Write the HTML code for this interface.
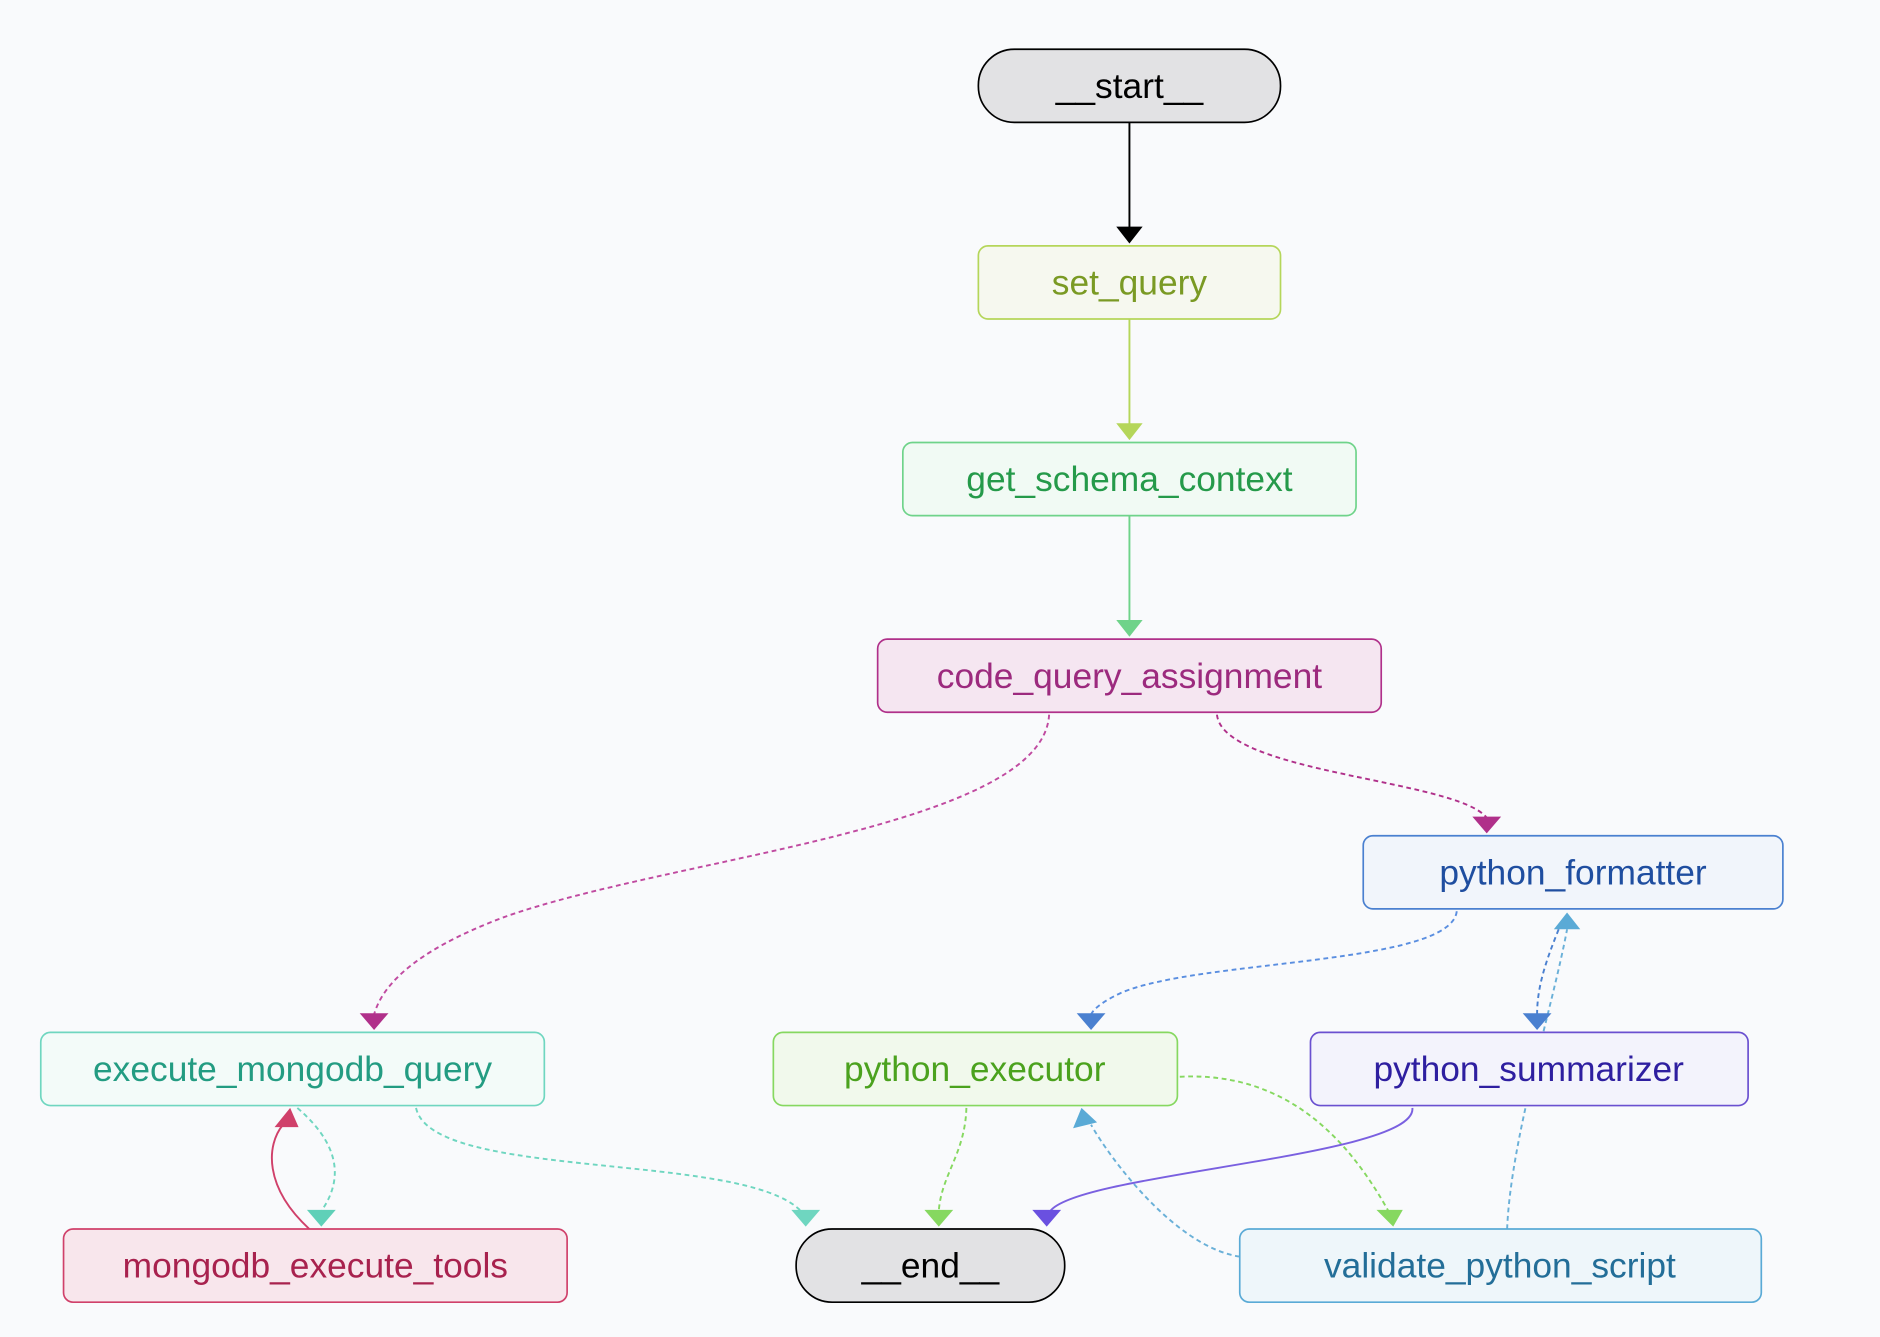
<!DOCTYPE html>
<html><head><meta charset="utf-8"><style>
html,body{margin:0;padding:0;background:#f9fafc;}
svg{display:block;}
text{font-family:"Liberation Sans",sans-serif;font-size:29.5px;text-anchor:middle;dominant-baseline:central;}
</style></head><body>
<svg width="1880" height="1337" viewBox="0 0 1568 1115" xmlns="http://www.w3.org/2000/svg">
<rect width="1568" height="1115" fill="#f9fafc"/>
<g fill="none" stroke-width="1.6">
<path d="M942,102 L942,190" stroke="#000"/>
<path d="M942,266 L942,354" stroke="#b5d65a"/>
<path d="M942,430 L942,518" stroke="#6fd38a"/>
<path d="M875,596 C870,690 560,715 420,765 C340,795 318,825 312,846" stroke="#c04aa0" stroke-dasharray="4,3"/>
<path d="M1015,596 C1020,645 1215,650 1240,682" stroke="#b0308a" stroke-dasharray="4,3"/>
<path d="M1215,760 C1210,805 1000,800 935,828 C918,836 912,842 910,846" stroke="#5a8ee0" stroke-dasharray="4,3"/>
<path d="M1300,775 C1290,800 1282,822 1282,846" stroke="#4a80d0" stroke-dasharray="4,3"/>
<path d="M1257,1025 C1260,950 1295,840 1307,775" stroke="#6ab0d8" stroke-dasharray="4,3"/>
<path d="M347,924 C360,985 620,960 668,1010" stroke="#6fd6c0" stroke-dasharray="4,3"/>
<path d="M248,924 C290,960 282,990 268,1010" stroke="#6fd6c0" stroke-dasharray="4,3"/>
<path d="M258,1025 C220,990 222,955 236,938" stroke="#d0406a"/>
<path d="M806,924 C805,962 785,980 783,1010" stroke="#86d860" stroke-dasharray="4,3"/>
<path d="M984,898 C1080,893 1130,960 1158,1010" stroke="#86d860" stroke-dasharray="4,3"/>
<path d="M1178,924 C1182,965 900,978 876,1010" stroke="#7a60e0"/>
<path d="M1034,1048 C980,1040 925,965 910,938" stroke="#6ab0d8" stroke-dasharray="4,3"/>
</g>
<g>
<polygon points="931,189 953,189 942,203" fill="#000"/>
<polygon points="931,353 953,353 942,367" fill="#b5d65a"/>
<polygon points="931,517 953,517 942,531" fill="#6fd38a"/>
<polygon points="300,845 324,845 312,859" fill="#b0308a"/>
<polygon points="1228,681 1252,681 1240,695" fill="#b0308a"/>
<polygon points="898,845 922,845 910,859" fill="#4a80d0"/>
<polygon points="1270,845 1294,845 1282,859" fill="#4a80d0"/>
<polygon points="1296,775 1318,775 1307,761" fill="#5aaad6"/>
<polygon points="660,1009 684,1009 672,1023" fill="#6fd6c0"/>
<polygon points="256,1009 280,1009 268,1023" fill="#5fd0b8"/>
<polygon points="229,940 249,940 242,924" fill="#d0406a"/>
<polygon points="771,1009 795,1009 783,1023" fill="#86d860"/>
<polygon points="1148,1009 1170,1009 1162,1023" fill="#86d860"/>
<polygon points="861,1009 885,1009 873,1023" fill="#6a50e0"/>
<polygon points="895,941 915,936 902,924" fill="#5aaad6"/>
</g>
<g stroke-width="1.4">
<rect x="816" y="41" width="252" height="61" rx="30" fill="#e2e2e4" stroke="#000"/>
<rect x="816" y="205" width="252" height="61" rx="8" fill="#f6f8ef" stroke="#b5d65a"/>
<rect x="753" y="369" width="378" height="61" rx="8" fill="#f1faf4" stroke="#6fd38a"/>
<rect x="732" y="533" width="420" height="61" rx="8" fill="#f5e6f1" stroke="#b0308a"/>
<rect x="1137" y="697" width="350" height="61" rx="8" fill="#f1f5fb" stroke="#4a80d0"/>
<rect x="34" y="861" width="420" height="61" rx="8" fill="#f3fbf9" stroke="#6fd6c0"/>
<rect x="645" y="861" width="337" height="61" rx="8" fill="#f1f9ec" stroke="#86d860"/>
<rect x="1093" y="861" width="365" height="61" rx="8" fill="#f3f3fc" stroke="#6a50d0"/>
<rect x="53" y="1025" width="420" height="61" rx="8" fill="#f8e6ec" stroke="#d0406a"/>
<rect x="664" y="1025" width="224" height="61" rx="30" fill="#e2e2e4" stroke="#000"/>
<rect x="1034" y="1025" width="435" height="61" rx="8" fill="#eef6fa" stroke="#5aaad6"/>
</g>
<text x="942" y="72" fill="#000">__start__</text>
<text x="942" y="236" fill="#7a9a24">set_query</text>
<text x="942" y="400" fill="#259a4a">get_schema_context</text>
<text x="942" y="564" fill="#9c2a7e">code_query_assignment</text>
<text x="1312" y="728" fill="#1f4ea0">python_formatter</text>
<text x="244" y="892" fill="#239c82">execute_mongodb_query</text>
<text x="813" y="892" fill="#4ba21e">python_executor</text>
<text x="1275" y="892" fill="#2e1fa0">python_summarizer</text>
<text x="263" y="1056" fill="#a8224e">mongodb_execute_tools</text>
<text x="776" y="1056" fill="#000">__end__</text>
<text x="1251" y="1056" fill="#236e98">validate_python_script</text>
</svg>
</body></html>
